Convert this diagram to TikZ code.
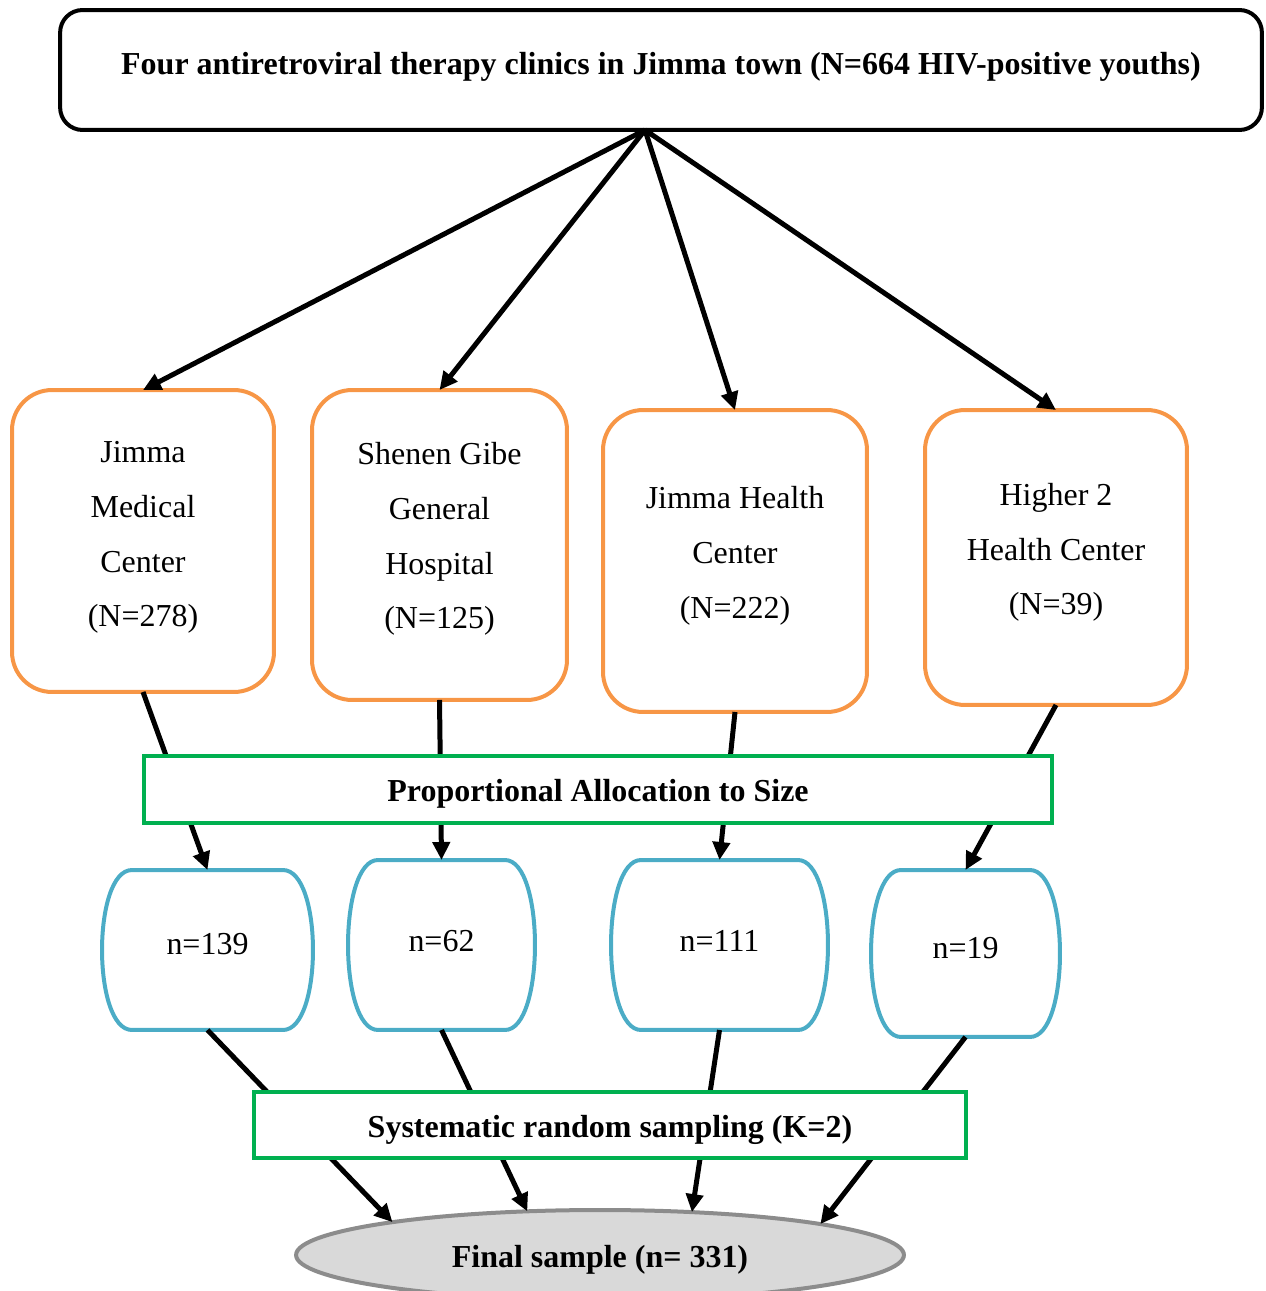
\documentclass[tikz,border=0pt]{standalone}
\usepackage{fontspec}
\setmainfont{Liberation Serif}
\usetikzlibrary{arrows.meta,calc,shapes.geometric}
\definecolor{orng}{RGB}{247,150,70}
\definecolor{blu}{RGB}{75,172,198}
\definecolor{grn}{RGB}{0,176,80}
\definecolor{ellfill}{RGB}{217,217,217}
\definecolor{ellline}{RGB}{140,140,140}
\newcommand{\drawblueoutline}[1]{%
  \draw[blu, line width=0.08cm, line join=round]
    ($(#1.north west)+(30,0)$) -- ($(#1.north east)+(-30,0)$)
    .. controls ($(#1.north east)+(10,0)$) and ($(#1.south east)+(10,0)$) .. ($(#1.south east)+(-30,0)$)
    -- ($(#1.south west)+(30,0)$)
    .. controls ($(#1.south west)+(-10,0)$) and ($(#1.north west)+(-10,0)$) .. cycle;}
\newcommand{\liftby}[2]{\raisebox{#1}[\height][\depth]{#2}}
\newcommand{\liftstack}[2]{\raisebox{#1}[\height][\depth]{\begin{tabular}{@{}c@{}}#2\end{tabular}}}
\begin{document}
\begin{tikzpicture}[x=0.02cm,y=-0.02cm,
  txt/.style={font=\fontsize{18.2}{31.3}\selectfont, align=center},
  btxt/.style={font=\fontsize{18.2}{31.3}\selectfont\bfseries, align=center},
  topbox/.style={draw=black, line width=0.08cm, rounded corners=0.45cm, btxt, outer sep=0, inner sep=0},
  orgbox/.style={draw=orng, line width=0.08cm, rounded corners=0.8cm, txt, outer sep=0, inner sep=0},
  bluenode/.style={txt, inner sep=0, outer sep=0},
  grnbox/.style={draw=grn, fill=white, line width=0.08cm, btxt, outer sep=0, inner sep=0},
  finnode/.style={ellipse, draw=ellline, fill=ellfill, line width=0.08cm, btxt, inner sep=0, outer sep=0},
  arr/.style={line width=0.1cm, -{Triangle[length=0.36cm,width=0.34cm]}}]
\useasboundingbox (0,0) rectangle (1265,1291);
\clip (0,0) rectangle (1265,1291);

% top box
\node[topbox, minimum width=24.04cm, minimum height=2.4cm] (top) at (661,70)
  {\liftby{0.06cm}{Four antiretroviral therapy clinics in Jimma town (N=664 HIV-positive youths)}};
\coordinate (hub) at ($(top.south)+(-16,0)$);

% orange boxes
\node[orgbox, minimum width=5.24cm, minimum height=6.04cm] (o1) at (143,541)
  {\liftstack{0.15cm}{Jimma\\Medical\\Center\\(N=278)}};
\node[orgbox, minimum width=5.1cm, minimum height=6.2cm] (o2) at (439.5,545)
  {\liftstack{0.19cm}{Shenen Gibe\\General\\Hospital\\(N=125)}};
\node[orgbox, minimum width=5.28cm, minimum height=6.04cm] (o3) at (735,561)
  {\liftstack{0.17cm}{Jimma Health\\Center\\(N=222)}};
\node[orgbox, minimum width=5.24cm, minimum height=5.9cm] (o4) at (1056,557.5)
  {\liftstack{0.17cm}{Higher 2\\Health Center\\(N=39)}};

% blue nodes
\node[bluenode, minimum width=4.22cm, minimum height=3.2cm] (b1) at (207.5,950)
  {\liftby{0.12cm}{n=139}};
\node[bluenode, minimum width=3.74cm, minimum height=3.4cm] (b2) at (441.5,945)
  {\liftby{0.08cm}{n=62}};
\node[bluenode, minimum width=4.34cm, minimum height=3.4cm] (b3) at (719.5,945)
  {\liftby{0.08cm}{n=111}};
\node[bluenode, minimum width=3.78cm, minimum height=3.34cm] (b4) at (965.5,953.5)
  {\liftby{0.1cm}{n=19}};
\drawblueoutline{b1}
\drawblueoutline{b2}
\drawblueoutline{b3}
\drawblueoutline{b4}

% final ellipse
\node[finnode, minimum width=12.16cm, minimum height=1.8cm] (fin) at (600,1255)
  {\liftby{-0.1cm}{Final sample (n= 331)}};

% arrows
\draw[arr] (hub) -- (o1.north);
\draw[arr] (hub) -- (o2.north);
\draw[arr] (hub) -- (o3.north);
\draw[arr] (hub) -- (o4.north);

\draw[arr] (o1.south) -- (b1.north);
\draw[arr] (o2.south) -- (b2.north);
\draw[arr] (o3.south) -- (b3.north);
\draw[arr] (o4.south) -- (b4.north);

\draw[arr] (b1.south) -- (fin.171.6);
\draw[arr] (b2.south) -- (fin.149);
\draw[arr] (b3.south) -- (fin.25.5);
\draw[arr] (b4.south) -- (fin.8.2);

% green boxes on top of the connectors
\node[grnbox, minimum width=18.16cm, minimum height=1.34cm] (g1) at (598,789.5)
  {\liftby{-0.08cm}{Proportional Allocation to Size}};
\node[grnbox, minimum width=14.24cm, minimum height=1.32cm] (g2) at (610,1125)
  {\liftby{-0.1cm}{Systematic random sampling (K=2)}};
\end{tikzpicture}
\end{document}
